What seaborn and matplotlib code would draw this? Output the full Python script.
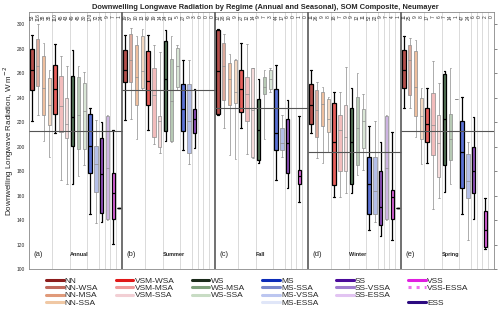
import numpy as np
import pandas as pd
import matplotlib
matplotlib.use("Agg")
import matplotlib.pyplot as plt
from matplotlib.lines import Line2D
import seaborn as sns

# regimes in the legend (20) and the 16 slots drawn in each panel
regimes = ["NN", "NN-WSA", "NN-MSA", "NN-SSA", "VSM-WSA", "VSM-MSA", "VSM-SSA",
           "WS", "WS-MSA", "WS-SSA", "MS", "MS-SSA", "MS-VSSA", "MS-ESSA",
           "SS", "SS-VSSA", "SS-ESSA", "VSS", "VSS-ESSA", "ESS"]
slot_regimes = ["NN", "NN-WSA", "NN-MSA", "NN-SSA", "VSM-WSA", "VSM-MSA", "VSM-SSA",
                "WS", "WS-MSA", "WS-SSA", "MS", "MS-SSA", "SS", "SS-VSSA", "VSS", "ESS"]
bold_regimes = ["NN", "VSM-WSA", "WS", "MS", "SS", "VSS", "ESS"]
seasons = ["Annual", "Summer", "Fall", "Winter", "Spring"]
tags = ["(a)", "(b)", "(c)", "(d)", "(e)"]

# five-number summaries (min, q1, median, q3, max), W m-2
annual = [(221, 246, 263, 280, 291), (226, 250, 266, 288, 300), (205, 226, 248, 274, 285),
          (192, 218, 234, 256, 263), (211, 227, 247, 267, 284), (173, 212, 233, 258, 274),
          (170, 207, 219, 240, 266), (170, 201, 224, 258, 279), (176, 198, 226, 257, 266),
          (185, 198, 229, 252, 261), (145, 179, 201, 227, 232), (138, 163, 186, 201, 222),
          (139, 146, 178, 207, 220), (140, 141, 183, 225, 226), (121, 141, 162, 179, 214),
          (150, 150, 150, 150, 150)]
summer = [(222, 253, 263, 279, 291), (223, 253, 271, 292, 297), (206, 234, 257, 283, 290),
          (246, 248, 262, 290, 296), (214, 234, 254, 278, 291), (202, 208, 242, 264, 283),
          (195, 200, 221, 225, 277), (205, 213, 255, 286, 295), (204, 205, 237, 272, 290),
          (246, 249, 266, 281, 283), (197, 213, 231, 251, 271), (186, 195, 221, 251, 271),
          (199, 211, 223, 231, 247), None, None, None]
fall = [(226, 227, 262, 295, 296), (215, 238, 266, 285, 292), (193, 234, 255, 268, 276),
        (190, 236, 245, 271, 272), (215, 228, 247, 263, 285), (194, 221, 243, 257, 284),
        (191, 192, 230, 264, 264), (187, 189, 214, 239, 255), (206, 243, 249, 257, 263),
        (245, 247, 255, 263, 264), (173, 197, 211, 247, 267), (192, 197, 203, 215, 226),
        (166, 179, 203, 223, 238), None, (155, 170, 176, 181, 225), None]
winter = [(211, 219, 234, 251, 263), (191, 208, 230, 246, 253), (187, 217, 235, 245, 249),
          (196, 212, 223, 239, 241), (159, 169, 204, 236, 245), (159, 180, 214, 226, 245),
          (162, 180, 208, 234, 265), (162, 170, 204, 232, 248), (177, 185, 215, 241, 260),
          (181, 199, 221, 231, 243), (132, 145, 170, 192, 217), (139, 145, 164, 192, 221),
          (127, 136, 151, 180, 204), (140, 141, 183, 225, 226), (124, 141, 159, 165, 212),
          (150, 150, 150, 150, 150)]
spring = [(232, 248, 263, 279, 290), (232, 242, 271, 283, 289), (208, 225, 249, 278, 287),
          (186, 206, 225, 240, 248), (187, 204, 219, 232, 248), (149, 193, 218, 244, 270),
          (158, 175, 203, 226, 252), (163, 185, 223, 259, 262), (170, 189, 206, 227, 264),
          (239, 239, 239, 239, 239), (145, 166, 196, 221, 241), (124, 158, 172, 194, 204),
          (141, 162, 180, 200, 224), None, (117, 118, 132, 148, 158), None]

season_means = [213, 246.5, 232, 196, 213]

# sample counts printed along the top
counts_annual = [53, 116, 38, 38, 110, 45, 43, 49, 45, 30, 170, 72, 24, 9, 7, 1]
counts_summer = [19, 37, 10, 13, 48, 19, 14, 24, 12, 5, 27, 9, 3, 0, 0, 0]
counts_fall = [12, 28, 10, 9, 27, 12, 14, 9, 7, 3, 44, 17, 6, 0, 1, 0]
counts_winter = [11, 26, 9, 8, 18, 7, 9, 9, 12, 11, 52, 22, 9, 7, 4, 1]
counts_spring = [11, 25, 9, 8, 17, 7, 6, 7, 14, 1, 47, 24, 6, 0, 2, 0]

box_colors = {"NN": "#b5504c", "NN-WSA": "#dcaa9c", "NN-MSA": "#eebf9e", "NN-SSA": "#f4d9c2",
              "VSM-WSA": "#e8605c", "VSM-MSA": "#f2bcbc", "VSM-SSA": "#f6dcdc",
              "WS": "#56785a", "WS-MSA": "#b6c9b4", "WS-SSA": "#d9e6d6",
              "MS": "#5b72d6", "MS-SSA": "#b4bfe8", "SS": "#9252c0", "SS-VSSA": "#cdb4e2",
              "VSS": "#e064e0", "ESS": "#2a0a6a"}
legend_colors = {"NN": "#8b1c1c", "NN-WSA": "#c0685c", "NN-MSA": "#e09a7a", "NN-SSA": "#f0c8a4",
                 "VSM-WSA": "#e01818", "VSM-MSA": "#f09a9a", "VSM-SSA": "#f2cfd4",
                 "WS": "#1a2a1a", "WS-MSA": "#7fa07c", "WS-SSA": "#c8dcc4",
                 "MS": "#0c2cb8", "MS-SSA": "#7a88cc", "MS-VSSA": "#bcc6f0", "MS-ESSA": "#e0e6f8",
                 "SS": "#4a0a9a", "SS-VSSA": "#a07cd0", "SS-ESSA": "#e2c4f2",
                 "VSS": "#e01ee0", "VSS-ESSA": "#f070f0", "ESS": "#2c0a80"}

all_stats = [annual, summer, fall, winter, spring]
all_counts = [counts_annual, counts_summer, counts_fall, counts_winter, counts_spring]

rows = []
for p, stats in enumerate(all_stats):
    for k, s in enumerate(stats):
        if s is None:
            continue
        for v in s:
            rows.append({"slot": p * 16 + k, "regime": slot_regimes[k], "value": v,
                         "bold": slot_regimes[k] in bold_regimes})
df = pd.DataFrame(rows)

sns.set_style("white")
plt.rcParams["font.family"] = ["Liberation Sans", "DejaVu Sans"]

fig = plt.figure(figsize=(5, 3.23), dpi=100)
ax = fig.add_axes([0.058, 0.166, 0.93, 0.797])

# group separators and panel separators
for p in range(5):
    for k in [4, 7, 10, 12, 13, 14, 15]:
        ax.axvline(p * 16 + k - 0.5, color="#d4d4d4", lw=0.6, zorder=0)
for p in range(1, 5):
    ax.axvline(p * 16 - 0.5, color="#666666", lw=1.3, zorder=3)

slots = list(range(80))
for is_bold, lc, lw in [(False, "#8c8c8c", 0.5), (True, "black", 0.9)]:
    sub = df[df["bold"] == is_bold]
    hue_order = [r for r in slot_regimes if r in set(sub["regime"])]
    sns.boxplot(data=sub, x="slot", y="value", hue="regime", order=slots,
                hue_order=hue_order, palette=box_colors, dodge=False, width=0.58,
                whis=(0, 100), saturation=1, linecolor=lc, linewidth=lw,
                showfliers=False, legend=False, ax=ax)

for p, m in enumerate(season_means):
    ax.hlines(m, p * 16 - 0.5, p * 16 + 15.5, color="#555555", lw=0.8, zorder=4)

for p, cts in enumerate(all_counts):
    for k, c in enumerate(cts):
        ax.text(p * 16 + k, 306, str(c), rotation=90, fontsize=3.5,
                ha="center", va="center", color="#333333")
    ax.text(p * 16 + 0.2, 112, tags[p], fontsize=5.5, va="center", ha="left")
    ax.text(p * 16 + 6.5, 112, seasons[p], fontsize=4, fontweight="bold",
            va="center", ha="left")

ax.set_xlim(-0.5, 79.5)
ax.set_ylim(100, 310)
ax.set_xticks(slots)
ax.set_xticklabels([])
ax.set_xlabel("")
ax.set_yticks(range(100, 301, 20))
ax.tick_params(axis="x", direction="in", length=2.5, width=0.5, color="#555555")
ax.tick_params(axis="y", direction="out", length=2, width=0.5, pad=1, labelsize=3.5,
               right=True, color="#555555")
ax.set_ylabel("Downwelling Longwave Radiation, W m$^{-2}$", fontsize=5.8)
ax.yaxis.set_label_coords(-0.028, 0.5)
for sp in ax.spines.values():
    sp.set_color("#888888")
    sp.set_linewidth(0.6)

fig.text(0.53, 0.978, "Downwelling Longwave Radiation by Regime (Annual and Seasonal), "
         "SOM Composite, Neumayer", fontsize=5.4, fontweight="bold", ha="center", va="center")

legend_cols = [["NN", "NN-WSA", "NN-MSA", "NN-SSA"],
               ["VSM-WSA", "VSM-MSA", "VSM-SSA", None],
               ["WS", "WS-MSA", "WS-SSA", None],
               ["MS", "MS-SSA", "MS-VSSA", "MS-ESSA"],
               ["SS", "SS-VSSA", "SS-ESSA", None],
               ["VSS", "VSS-ESSA", None, "ESS"]]
handles, labels = [], []
for col in legend_cols:
    for name in col:
        if name is None:
            handles.append(Line2D([], [], color="none"))
            labels.append("")
        else:
            handles.append(Line2D([], [], color=legend_colors[name], lw=2.2,
                                  ls=":" if name == "VSS-ESSA" else "-"))
            labels.append(name)
fig.legend(handles, labels, ncol=6, loc="upper left", bbox_to_anchor=(0.092, 0.143),
           frameon=False, fontsize=6, handlelength=2.1, handletextpad=0.15,
           columnspacing=2.1, labelspacing=-0.05, borderpad=0, borderaxespad=0)

fig.savefig("out.png", dpi=100)
